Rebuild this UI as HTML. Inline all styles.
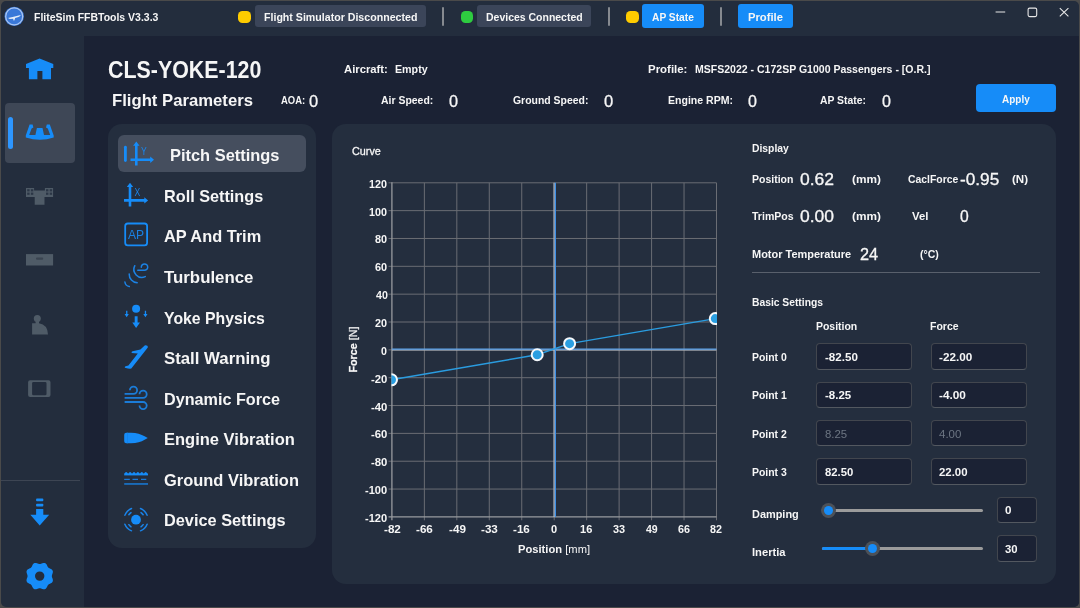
<!DOCTYPE html>
<html lang="en">
<head>
<meta charset="utf-8">
<title>FliteSim FFBTools V3.3.3</title>
<style>
*{box-sizing:border-box;margin:0;padding:0}
html,body{width:1080px;height:608px;overflow:hidden;background:#4a4a4a;font-family:"Liberation Sans",sans-serif;}
.abs,.t,svg,.box{position:absolute}
#win{position:absolute;left:1px;top:1px;width:1078px;height:606px;background:#232d3d;border-radius:5px;overflow:hidden}
#page{position:absolute;left:-1px;top:-1px;width:1080px;height:608px}
.t{white-space:pre;font-weight:700;color:#f6f6f6;transform-origin:0 50%;display:block}
#content{left:84px;top:36px;width:996px;height:572px;background:#1b2234}
.panel{background:#242e3e;border-radius:14px}
.btn{border-radius:3px}
.gray{background:#3b4559}
.blue{background:#168cf8}
.dot{width:12.5px;height:12px;border-radius:4.5px;top:10.6px}
.sep{width:2px;height:19px;top:7px;background:#868a90;border-radius:1px}
.inp{height:26.4px;width:96px;background:#1b2234;border:1px solid #42464e;border-bottom-color:#535860;border-radius:4px}
.track{height:3.4px;border-radius:2px;background:#9b9b9b}
.knob{width:15px;height:15px;border-radius:50%;background:#4c5158}
.knob i{position:absolute;left:3px;top:3px;width:9px;height:9px;border-radius:50%;background:#168cf8}
</style>
</head>
<body>
<div id="win"><div id="page">

<!-- ===== title bar ===== -->
<header id="titlebar">
<svg style="left:3px;top:5px" width="23" height="23" viewBox="3 5 23 23">
  <circle cx="14.2" cy="16.4" r="9.7" fill="#3a78d8"/>
  <circle cx="14.2" cy="16.4" r="8.5" fill="none" stroke="#a9c5f1" stroke-width="1.3"/>
  <path d="M8 17.9 L12.6 17 L19.6 15.3 L21 15.5 L18.6 16.9 L15.2 18.1 L14.3 20.4 L13.5 20.4 L13.2 18.7 L9.8 19 Z" fill="#e4ecf9"/>
</svg>
<div class="abs dot" style="left:238.2px;background:#ffcc00"></div>
<div class="abs btn gray" style="left:255px;top:5px;width:171px;height:22px"></div>
<div class="abs sep" style="left:442.3px"></div>
<div class="abs dot" style="left:460.8px;background:#2ecc40"></div>
<div class="abs btn gray" style="left:477.4px;top:5px;width:113.8px;height:22px"></div>
<div class="abs sep" style="left:608px"></div>
<div class="abs dot" style="left:626.2px;background:#ffcc00"></div>
<div class="abs btn blue" style="left:642.2px;top:4px;width:62px;height:24px"></div>
<div class="abs sep" style="left:720px"></div>
<div class="abs btn blue" style="left:738.3px;top:4px;width:54.6px;height:24px"></div>
<svg style="left:990px;top:0" width="90" height="30" viewBox="990 0 90 30" fill="none" stroke="#e8e8e8" stroke-width="1.1">
  <path d="M995.6 12 H1005.2"/>
  <rect x="1028.1" y="8.1" width="8.6" height="8.5" rx="1.5"/>
  <path d="M1059.8 8.1 L1068.4 16.3 M1068.4 8.1 L1059.8 16.3"/>
</svg>
<span class="t" style="left:33.8px;top:11.0px;font-size:11.73px;line-height:11.73px;transform:scaleX(0.894)">FliteSim FFBTools V3.3.3</span>
<span class="t" style="left:263.7px;top:12.0px;font-size:11.59px;line-height:11.59px;transform:scaleX(0.917)">Flight Simulator Disconnected</span>
<span class="t" style="left:486.2px;top:12.0px;font-size:11.59px;line-height:11.59px;transform:scaleX(0.905)">Devices Connected</span>
<span class="t" style="left:652.1px;top:12.0px;font-size:11.59px;line-height:11.59px;transform:scaleX(0.883)">AP State</span>
<span class="t" style="left:747.6px;top:12.0px;font-size:11.59px;line-height:11.59px;transform:scaleX(0.971)">Profile</span>
</header>

<!-- ===== sidebar ===== -->
<nav id="sidebar">
<div class="abs" style="left:5px;top:102.5px;width:70px;height:60.5px;background:#3e4756;border-radius:4px"></div>
<div class="abs" style="left:8px;top:116.6px;width:5px;height:32.6px;background:#2d96ff;border-radius:2.5px"></div>
<div class="abs" style="left:0;top:479.5px;width:80px;height:1px;background:#3d4553"></div>
<svg style="left:20px;top:50px" width="40" height="40" viewBox="20 50 40 40" fill="#168cf8">
  <path d="M39.6 58.4 L53.3 64 V68 H51 V79.2 H42.4 V71 H37.4 V79.2 H28.9 V68 H26 V64 Z"/>
</svg>
<svg style="left:20px;top:115px" width="40" height="35" viewBox="20 115 40 35" fill="#168cf8">
  <path d="M29.6 124.6 H32.6 L33.4 127.4 L31.6 128.4 L29.2 135.1 H35.4 L36.9 128 H42.5 L44 135.1 H50.2 L47.8 128.4 L46 127.4 L46.8 124.6 H49.8 L53.7 135.5 V137.4 Q40 142 25.8 137.4 V135.5 Z"/>
</svg>
<svg style="left:20px;top:180px" width="40" height="35" viewBox="20 180 40 35">
  <path fill="#4f5b67" d="M26 188.1 H34.1 V190.6 H44.9 V188.1 H53.1 V197 H44.5 V204.7 H34.7 V197 H26 Z"/>
  <g fill="#2b3646"><rect x="27.2" y="189.2" width="2.4" height="2.2"/><rect x="30.9" y="189.2" width="2.4" height="2.2"/><rect x="27.2" y="192.6" width="2.4" height="2.2"/><rect x="30.9" y="192.6" width="2.4" height="2.2"/>
  <rect x="46" y="189.2" width="2.4" height="2.2"/><rect x="49.7" y="189.2" width="2.4" height="2.2"/><rect x="46" y="192.6" width="2.4" height="2.2"/><rect x="49.7" y="192.6" width="2.4" height="2.2"/></g>
</svg>
<svg style="left:20px;top:242px" width="40" height="35" viewBox="20 242 40 35">
  <rect x="26" y="254.1" width="27.1" height="11.4" fill="#4f5b67"/>
  <rect x="36" y="257.6" width="7.2" height="2.1" rx="1" fill="#3a4451"/>
</svg>
<svg style="left:20px;top:307px" width="40" height="35" viewBox="20 307 40 35" fill="#4f5b67">
  <circle cx="37.3" cy="318.5" r="3.5"/>
  <path d="M35.6 320 H39 V323.3 Q47.6 324.6 48 334.5 H32.1 V323.3 H35.6 Z"/>
</svg>
<svg style="left:20px;top:371px" width="40" height="35" viewBox="20 371 40 35">
  <path fill="#4f5b67" fill-rule="evenodd" d="M30.1 380.2 H48.5 Q50.5 380.2 50.5 382.2 V394.9 Q50.5 396.9 48.5 396.9 H30.1 Q28.1 396.9 28.1 394.9 V382.2 Q28.1 380.2 30.1 380.2 Z M33.4 381.9 Q32.1 381.9 32.1 383.2 V393.9 Q32.1 395.2 33.4 395.2 H45.2 Q46.5 395.2 46.5 393.9 V383.2 Q46.5 381.9 45.2 381.9 Z"/>
</svg>
<svg style="left:20px;top:494px" width="40" height="35" viewBox="20 494 40 35" fill="#168cf8">
  <rect x="36.1" y="498.6" width="7.2" height="2.7" rx="0.8"/>
  <rect x="36.1" y="503.8" width="7.2" height="2.7" rx="0.8"/>
  <path d="M36.1 509.1 H43.3 V514.8 H49.2 L39.7 525.5 L30.3 514.8 H36.1 Z"/>
</svg>
<svg style="left:20px;top:558px" width="40" height="36" viewBox="20 558 40 36">
  <path fill="#168cf8" fill-rule="evenodd" d="M39.70 563.95 L40.34 563.88 L41.00 563.70 L41.70 563.45 L42.44 563.19 L43.21 562.99 L43.99 562.91 L44.73 563.00 L45.41 563.28 L46.00 563.74 L46.49 564.34 L46.89 565.03 L47.23 565.74 L47.54 566.41 L47.88 567.01 L48.29 567.51 L48.79 567.92 L49.39 568.26 L50.06 568.57 L50.77 568.91 L51.46 569.31 L52.06 569.80 L52.52 570.39 L52.80 571.07 L52.89 571.81 L52.81 572.59 L52.61 573.36 L52.35 574.10 L52.10 574.80 L51.92 575.46 L51.85 576.10 L51.92 576.74 L52.10 577.40 L52.35 578.10 L52.61 578.84 L52.81 579.61 L52.89 580.39 L52.80 581.13 L52.52 581.81 L52.06 582.40 L51.46 582.89 L50.77 583.29 L50.06 583.63 L49.39 583.94 L48.79 584.28 L48.29 584.69 L47.88 585.19 L47.54 585.79 L47.23 586.46 L46.89 587.17 L46.49 587.86 L46.00 588.46 L45.41 588.92 L44.73 589.20 L43.99 589.29 L43.21 589.21 L42.44 589.01 L41.70 588.75 L41.00 588.50 L40.34 588.32 L39.70 588.25 L39.06 588.32 L38.40 588.50 L37.70 588.75 L36.96 589.01 L36.19 589.21 L35.41 589.29 L34.67 589.20 L33.99 588.92 L33.40 588.46 L32.91 587.86 L32.51 587.17 L32.17 586.46 L31.86 585.79 L31.52 585.19 L31.11 584.69 L30.61 584.28 L30.01 583.94 L29.34 583.63 L28.63 583.29 L27.94 582.89 L27.34 582.40 L26.88 581.81 L26.60 581.13 L26.51 580.39 L26.59 579.61 L26.79 578.84 L27.05 578.10 L27.30 577.40 L27.48 576.74 L27.55 576.10 L27.48 575.46 L27.30 574.80 L27.05 574.10 L26.79 573.36 L26.59 572.59 L26.51 571.81 L26.60 571.07 L26.88 570.39 L27.34 569.80 L27.94 569.31 L28.63 568.91 L29.34 568.57 L30.01 568.26 L30.61 567.92 L31.11 567.51 L31.52 567.01 L31.86 566.41 L32.17 565.74 L32.51 565.03 L32.91 564.34 L33.40 563.74 L33.99 563.28 L34.67 563.00 L35.41 562.91 L36.19 562.99 L36.96 563.19 L37.70 563.45 L38.40 563.70 L39.06 563.88 Z M35.00 576.10 A4.7 4.7 0 1 0 44.40 576.10 A4.7 4.7 0 1 0 35.00 576.10 Z"/>
</svg>

</nav>

<main id="content" class="abs"></main>
<div class="abs btn blue" style="left:976.2px;top:84.2px;width:80px;height:27.6px;border-radius:4px"></div>
<h1 class="t" style="left:107.5px;top:59.0px;font-size:23.18px;line-height:23.18px;transform:scaleX(0.923)">CLS-YOKE-120</h1>
<h2 class="t" style="left:111.9px;top:92.0px;font-size:16.48px;line-height:16.48px;transform:scaleX(1.013)">Flight Parameters</h2>
<span class="t" style="left:280.8px;top:96.0px;font-size:10.34px;line-height:10.34px;transform:scaleX(0.918)">AOA:</span>
<span class="t" style="left:309.0px;top:93.0px;font-size:17.04px;line-height:17.04px;transform:scaleX(0.965);font-weight:400;-webkit-text-stroke:0.3px currentColor">0</span>
<span class="t" style="left:343.6px;top:64.0px;font-size:11.17px;line-height:11.17px;transform:scaleX(1.010)">Aircraft:</span>
<span class="t" style="left:395.0px;top:64.0px;font-size:11.17px;line-height:11.17px;transform:scaleX(0.957)">Empty</span>
<span class="t" style="left:380.8px;top:95.0px;font-size:11.17px;line-height:11.17px;transform:scaleX(0.937)">Air Speed:</span>
<span class="t" style="left:449.0px;top:93.0px;font-size:17.04px;line-height:17.04px;transform:scaleX(0.953);font-weight:400;-webkit-text-stroke:0.3px currentColor">0</span>
<span class="t" style="left:512.9px;top:95.0px;font-size:11.17px;line-height:11.17px;transform:scaleX(0.936)">Ground Speed:</span>
<span class="t" style="left:604.0px;top:93.0px;font-size:17.04px;line-height:17.04px;transform:scaleX(0.976);font-weight:400;-webkit-text-stroke:0.3px currentColor">0</span>
<span class="t" style="left:647.9px;top:64.0px;font-size:11.17px;line-height:11.17px;transform:scaleX(1.026)">Profile:</span>
<span class="t" style="left:695.0px;top:64.0px;font-size:11.17px;line-height:11.17px;transform:scaleX(0.943)">MSFS2022 - C172SP G1000 Passengers - [O.R.]</span>
<span class="t" style="left:667.7px;top:95.0px;font-size:11.17px;line-height:11.17px;transform:scaleX(0.945)">Engine RPM:</span>
<span class="t" style="left:748.3px;top:93.0px;font-size:17.04px;line-height:17.04px;transform:scaleX(0.941);font-weight:400;-webkit-text-stroke:0.3px currentColor">0</span>
<span class="t" style="left:820.0px;top:95.0px;font-size:11.17px;line-height:11.17px;transform:scaleX(0.930)">AP State:</span>
<span class="t" style="left:881.7px;top:93.0px;font-size:17.04px;line-height:17.04px;transform:scaleX(0.941);font-weight:400;-webkit-text-stroke:0.3px currentColor">0</span>
<span class="t" style="left:1001.9px;top:94.0px;font-size:11.59px;line-height:11.59px;transform:scaleX(0.862)">Apply</span>

<!-- ===== settings menu ===== -->
<section class="abs panel" style="left:108px;top:124.2px;width:207.6px;height:424px"></section>
<div class="abs" style="left:117.8px;top:135.3px;width:188.6px;height:36.8px;background:#454e5e;border-radius:6px"></div>
<svg style="left:116px;top:136px" width="50" height="36" viewBox="116 136 50 36" fill="#168cf8">
  <rect x="124" y="145.8" width="2.8" height="16.2" rx="1.4"/>
  <path d="M136.3 141.6 L139.5 145.8 H137.6 V158.5 H150.2 V156.6 L154 159.8 L150.2 163 V161.1 H137.6 V165.4 H135 V161.1 H130.5 V158.5 H135 V145.8 H133.1 Z"/>
  <text x="141" y="155.1" font-family="Liberation Sans, sans-serif" font-size="11" transform="translate(141 0) scale(0.78 1) translate(-141 0)" fill="#1a84ea">Y</text>
</svg>
<svg style="left:116px;top:176px" width="50" height="36" viewBox="116 176 50 36" fill="#168cf8">
  <path d="M130 182.8 L133.2 187 H131.3 V199.1 H144.3 V197.2 L148.1 200.4 L144.3 203.6 V201.7 H131.3 V206.5 H128.7 V201.7 H124 V199.1 H128.7 V187 H126.8 Z"/>
  <text x="134.6" y="195.8" font-family="Liberation Sans, sans-serif" font-size="11" transform="translate(134.6 0) scale(0.78 1) translate(-134.6 0)" fill="#1a84ea">X</text>
</svg>
<svg style="left:116px;top:217px" width="50" height="36" viewBox="116 217 50 36">
  <rect x="125.2" y="223.5" width="21.9" height="21.9" rx="2.6" fill="none" stroke="#168cf8" stroke-width="1.8"/>
  <text x="128" y="238.8" font-family="Liberation Sans, sans-serif" font-size="13" transform="translate(128 0) scale(0.93 1) translate(-128 0)" fill="#1a80e2">AP</text>
</svg>
<svg style="left:116px;top:258px" width="50" height="36" viewBox="116 258 50 36" fill="none" stroke="#1c82e4" stroke-width="1.5" stroke-linecap="round">
  <path d="M124.9 282 A5.5 5.5 0 0 0 129.3 286.6"/>
  <path d="M129.2 274 A8.5 8.5 0 0 0 137.2 282.8"/>
  <path d="M134.8 265.7 A8 8 0 0 0 145.3 276.6"/>
  <path d="M137.8 270.3 H144.4 A3.2 3.2 0 1 0 141.3 267.2"/>
</svg>
<svg style="left:116px;top:299px" width="50" height="36" viewBox="116 299 50 36" fill="#168cf8">
  <circle cx="136.1" cy="308.7" r="4"/>
  <path d="M134.7 316.2 H137.6 V322.5 H140 L136.1 328 L132.3 322.5 H134.7 Z"/>
  <path d="M126.1 310.7 H127.4 V314 H128.8 L126.7 317.2 L124.6 314 H126.1 Z"/>
  <path d="M144.8 310.7 H146.1 V314 H147.5 L145.4 317.2 L143.3 314 H144.8 Z"/>
</svg>
<svg style="left:116px;top:340px" width="50" height="36" viewBox="116 340 50 36" fill="#168cf8">
  <path d="M145 345.3 Q148.2 345.2 147.8 347.4 L131.3 368.5 Q129.6 369 124.8 367.8 Q124.6 366.6 125.6 366.2 L128.4 365.4 L137.8 353.4 L131.6 352.9 Q131.4 351.6 132.6 351.2 L140.4 349.4 Z"/>
</svg>
<svg style="left:116px;top:380px" width="50" height="36" viewBox="116 380 50 36" fill="none" stroke="#1b7cd8" stroke-width="1.8">
  <path d="M124.6 393.9 H133.5 A3.6 3.6 0 1 0 129.9 390.3"/>
  <path d="M124.6 397.9 H143.1 A3.6 3.6 0 1 0 139.5 394.3"/>
  <path d="M124.6 402 H143.1 A3.6 3.6 0 1 1 139.5 405.6"/>
</svg>
<svg style="left:116px;top:421px" width="50" height="36" viewBox="116 421 50 36" fill="#168cf8">
  <path d="M126.2 432.7 H131 Q139.5 433 144.6 436.3 L147.8 438 L144.6 439.7 Q139.5 443 131 443.3 H126.2 Q124.2 443.3 124.2 441.3 V434.7 Q124.2 432.7 126.2 432.7 Z"/>
  <path d="M127.5 432.6 V443.4" stroke="#1280e6" stroke-width="0.6" fill="none"/>
</svg>
<svg style="left:116px;top:462px" width="50" height="36" viewBox="116 462 50 36" fill="#168cf8">
  <path d="M124.3 474 Q126.2 469.8 128.1 474 Z M128.2 474 Q130.1 469.8 132.0 474 Z M132.1 474 Q134.0 469.8 135.9 474 Z M136.0 474 Q137.9 469.8 139.8 474 Z M139.9 474 Q141.8 469.8 143.7 474 Z M143.8 474 Q145.7 469.8 147.6 474 Z "/>
  <rect x="124.2" y="473.5" width="23.8" height="1.9"/>
  <path d="M124.2 479.4 H129.8 M132.5 479.4 H138 M141 479.4 H146.3" stroke="#1a7ad8" stroke-width="1.3" fill="none"/>
  <rect x="124.2" y="483" width="23.8" height="1.9" fill="#1a6bb8"/>
</svg>
<svg style="left:116px;top:503px" width="50" height="36" viewBox="116 503 50 36">
  <circle cx="136" cy="519.7" r="4.9" fill="#168cf8"/>
  <path d="M140.50 508.57 A12 12 0 0 1 147.13 515.20 M140.99 512.57 A8.7 8.7 0 0 1 143.13 514.71 M147.13 524.20 A12 12 0 0 1 140.50 530.83 M143.13 524.69 A8.7 8.7 0 0 1 140.99 526.83 M131.50 530.83 A12 12 0 0 1 124.87 524.20 M131.01 526.83 A8.7 8.7 0 0 1 128.87 524.69 M124.87 515.20 A12 12 0 0 1 131.50 508.57 M128.87 514.71 A8.7 8.7 0 0 1 131.01 512.57" fill="none" stroke="#1a84ea" stroke-width="1.5" stroke-linecap="round"/>
</svg>

<span class="t" style="left:169.9px;top:147.0px;font-size:17.04px;line-height:17.04px;transform:scaleX(0.964)">Pitch Settings</span>
<span class="t" style="left:163.5px;top:188.0px;font-size:17.04px;line-height:17.04px;transform:scaleX(0.953)">Roll Settings</span>
<span class="t" style="left:164.0px;top:228.0px;font-size:17.04px;line-height:17.04px;transform:scaleX(0.960)">AP And Trim</span>
<span class="t" style="left:164.4px;top:269.0px;font-size:17.04px;line-height:17.04px;transform:scaleX(0.988)">Turbulence</span>
<span class="t" style="left:164.1px;top:310.0px;font-size:17.04px;line-height:17.04px;transform:scaleX(0.929)">Yoke Physics</span>
<span class="t" style="left:163.8px;top:350.0px;font-size:17.04px;line-height:17.04px;transform:scaleX(0.985)">Stall Warning</span>
<span class="t" style="left:163.5px;top:391.0px;font-size:17.04px;line-height:17.04px;transform:scaleX(0.950)">Dynamic Force</span>
<span class="t" style="left:163.5px;top:431.0px;font-size:17.04px;line-height:17.04px;transform:scaleX(0.969)">Engine Vibration</span>
<span class="t" style="left:163.8px;top:472.0px;font-size:17.04px;line-height:17.04px;transform:scaleX(0.966)">Ground Vibration</span>
<span class="t" style="left:163.5px;top:512.0px;font-size:17.04px;line-height:17.04px;transform:scaleX(0.958)">Device Settings</span>

<!-- ===== main panel ===== -->
<section class="abs panel" style="left:332px;top:124.2px;width:724px;height:459.8px"></section>
<span class="t" style="left:351.8px;top:146.0px;font-size:11.45px;line-height:11.45px;transform:scaleX(0.944);font-weight:400;-webkit-text-stroke:0.3px currentColor">Curve</span>
<svg style="left:0;top:0" width="1080" height="608" viewBox="0 0 1080 608">
<path d="M424.36 182.8 V520.3 M456.82 182.8 V520.3 M489.28 182.8 V520.3 M521.74 182.8 V520.3 M554.20 182.8 V520.3 M586.66 182.8 V520.3 M619.12 182.8 V520.3 M651.58 182.8 V520.3 M684.04 182.8 V520.3 M716.50 182.8 V520.3 M388.5 182.80 H716.5 M388.5 210.64 H716.5 M388.5 238.48 H716.5 M388.5 266.32 H716.5 M388.5 294.17 H716.5 M388.5 322.01 H716.5 M388.5 349.85 H716.5 M388.5 377.69 H716.5 M388.5 405.53 H716.5 M388.5 433.38 H716.5 M388.5 461.22 H716.5 M388.5 489.06 H716.5 " stroke="#6a6d74" stroke-width="1" fill="none"/>
<path d="M391.9 182.3 V520.3 M388.5 516.9 H716.5" stroke="#979a9f" stroke-width="1.3" fill="none"/>
<path d="M554.1 182.8 V516.9 M391.9 350.0 H716.5" stroke="#c2c6cc" stroke-width="1.1" fill="none"/>
<path d="M555.4 182.8 V516.9" stroke="#3b8ee6" stroke-width="1.2" fill="none"/>
<path d="M391.9 349.1 H716.5" stroke="#5ba1ea" stroke-width="1.1" fill="none"/>
<svg x="391.5" y="182.2" width="325.5" height="335.3" viewBox="391.5 182.2 325.5 335.3"><polyline points="391.50,379.80 537.21,354.76 569.59,343.64 715.30,318.60" fill="none" stroke="#2a9ce0" stroke-width="1.45"/>
<circle cx="391.50" cy="379.80" r="5.5" fill="#2a9fe2" stroke="#f6f9fc" stroke-width="2"/>
<circle cx="537.21" cy="354.76" r="5.5" fill="#2a9fe2" stroke="#f6f9fc" stroke-width="2"/>
<circle cx="569.59" cy="343.64" r="5.5" fill="#2a9fe2" stroke="#f6f9fc" stroke-width="2"/>
<circle cx="715.30" cy="318.60" r="5.5" fill="#2a9fe2" stroke="#f6f9fc" stroke-width="2"/>
</svg></svg>

<span class="t" style="left:383.7px;top:524.0px;font-size:11.45px;line-height:11.45px;transform:scaleX(1.019)">-82</span>
<span class="t" style="left:416.1px;top:524.0px;font-size:11.45px;line-height:11.45px;transform:scaleX(1.019)">-66</span>
<span class="t" style="left:448.5px;top:524.0px;font-size:11.45px;line-height:11.45px;transform:scaleX(1.021)">-49</span>
<span class="t" style="left:480.9px;top:524.0px;font-size:11.45px;line-height:11.45px;transform:scaleX(1.019)">-33</span>
<span class="t" style="left:513.3px;top:524.0px;font-size:11.45px;line-height:11.45px;transform:scaleX(1.019)">-16</span>
<span class="t" style="left:551.1px;top:524.0px;font-size:11.45px;line-height:11.45px;transform:scaleX(0.964)">0</span>
<span class="t" style="left:580.4px;top:524.0px;font-size:11.45px;line-height:11.45px;transform:scaleX(0.965)">16</span>
<span class="t" style="left:612.9px;top:524.0px;font-size:11.45px;line-height:11.45px;transform:scaleX(0.952)">33</span>
<span class="t" style="left:645.7px;top:524.0px;font-size:11.45px;line-height:11.45px;transform:scaleX(0.922)">49</span>
<span class="t" style="left:677.8px;top:524.0px;font-size:11.45px;line-height:11.45px;transform:scaleX(0.942)">66</span>
<span class="t" style="left:710.3px;top:524.0px;font-size:11.45px;line-height:11.45px;transform:scaleX(0.937)">82</span>
<span class="t" style="left:369.0px;top:179.0px;font-size:11.45px;line-height:11.45px;transform:scaleX(0.939)">120</span>
<span class="t" style="left:369.0px;top:207.0px;font-size:11.45px;line-height:11.45px;transform:scaleX(0.939)">100</span>
<span class="t" style="left:375.2px;top:234.0px;font-size:11.45px;line-height:11.45px;transform:scaleX(0.947)">80</span>
<span class="t" style="left:375.2px;top:262.0px;font-size:11.45px;line-height:11.45px;transform:scaleX(0.952)">60</span>
<span class="t" style="left:375.5px;top:290.0px;font-size:11.45px;line-height:11.45px;transform:scaleX(0.929)">40</span>
<span class="t" style="left:375.2px;top:318.0px;font-size:11.45px;line-height:11.45px;transform:scaleX(0.946)">20</span>
<span class="t" style="left:381.1px;top:346.0px;font-size:11.45px;line-height:11.45px;transform:scaleX(0.929)">0</span>
<span class="t" style="left:370.8px;top:374.0px;font-size:11.45px;line-height:11.45px;transform:scaleX(0.989)">-20</span>
<span class="t" style="left:370.8px;top:402.0px;font-size:11.45px;line-height:11.45px;transform:scaleX(0.989)">-40</span>
<span class="t" style="left:370.8px;top:429.0px;font-size:11.45px;line-height:11.45px;transform:scaleX(0.989)">-60</span>
<span class="t" style="left:370.8px;top:457.0px;font-size:11.45px;line-height:11.45px;transform:scaleX(0.989)">-80</span>
<span class="t" style="left:364.9px;top:485.0px;font-size:11.45px;line-height:11.45px;transform:scaleX(0.968)">-100</span>
<span class="t" style="left:364.9px;top:513.0px;font-size:11.45px;line-height:11.45px;transform:scaleX(0.968)">-120</span>
<span class="t" style="left:517.9px;top:544.0px;font-size:11.03px;line-height:11.03px;transform:scaleX(1.015)">Position <span style="font-weight:400">[mm]</span></span>
<div class="t" id="ylab" style="left:329.9px;top:344.6px;width:46.4px;height:11px;font-size:11.3px;line-height:11px;transform-origin:50% 50%;transform:rotate(-90deg);text-align:center;-webkit-text-stroke:0.25px currentColor"><span style="display:inline-block;transform:scaleX(0.95)">Force <span style="font-weight:400">[N]</span></span></div>

<span class="t" style="left:751.7px;top:143.0px;font-size:10.89px;line-height:10.89px;transform:scaleX(0.952)">Display</span>
<span class="t" style="left:751.7px;top:174.0px;font-size:10.89px;line-height:10.89px;transform:scaleX(0.965)">Position</span>
<span class="t" style="left:800.1px;top:171.0px;font-size:16.06px;line-height:16.06px;transform:scaleX(1.091);font-weight:400;-webkit-text-stroke:0.3px currentColor">0.62</span>
<span class="t" style="left:851.8px;top:174.0px;font-size:10.89px;line-height:10.89px;transform:scaleX(1.088)">(mm)</span>
<span class="t" style="left:907.7px;top:174.0px;font-size:10.89px;line-height:10.89px;transform:scaleX(0.956)">CaclForce</span>
<span class="t" style="left:960.3px;top:171.0px;font-size:16.06px;line-height:16.06px;transform:scaleX(1.072);font-weight:400;-webkit-text-stroke:0.3px currentColor">-0.95</span>
<span class="t" style="left:1011.7px;top:174.0px;font-size:10.89px;line-height:10.89px;transform:scaleX(1.062)">(N)</span>
<span class="t" style="left:752.3px;top:211.0px;font-size:10.89px;line-height:10.89px;transform:scaleX(0.972)">TrimPos</span>
<span class="t" style="left:800.1px;top:208.0px;font-size:16.06px;line-height:16.06px;transform:scaleX(1.090);font-weight:400;-webkit-text-stroke:0.3px currentColor">0.00</span>
<span class="t" style="left:851.8px;top:211.0px;font-size:10.89px;line-height:10.89px;transform:scaleX(1.088)">(mm)</span>
<span class="t" style="left:912.1px;top:211.0px;font-size:10.89px;line-height:10.89px;transform:scaleX(1.042)">Vel</span>
<span class="t" style="left:960.4px;top:208.0px;font-size:16.06px;line-height:16.06px;transform:scaleX(0.977);font-weight:400;-webkit-text-stroke:0.3px currentColor">0</span>
<span class="t" style="left:751.8px;top:249.0px;font-size:10.89px;line-height:10.89px;transform:scaleX(1.009)">Motor Temperature</span>
<span class="t" style="left:860.2px;top:246.0px;font-size:16.06px;line-height:16.06px;transform:scaleX(1.013);font-weight:400;-webkit-text-stroke:0.3px currentColor">24</span>
<span class="t" style="left:919.7px;top:249.0px;font-size:10.89px;line-height:10.89px;transform:scaleX(0.970)">(°C)</span>
<div class="abs" style="left:752px;top:272.2px;width:288px;height:1px;background:#59606c"></div>
<div class="abs inp" style="left:816px;top:343.3px"></div><div class="abs inp" style="left:930.6px;top:343.3px"></div>
<div class="abs inp" style="left:816px;top:381.6px"></div><div class="abs inp" style="left:930.6px;top:381.6px"></div>
<div class="abs inp" style="left:816px;top:420.0px"></div><div class="abs inp" style="left:930.6px;top:420.0px"></div>
<div class="abs inp" style="left:816px;top:458.3px"></div><div class="abs inp" style="left:930.6px;top:458.3px"></div>
<div class="abs track" style="left:821.5px;top:508.7px;width:161.5px"></div>
<div class="abs knob" style="left:821.1px;top:502.9px"><i></i></div>
<div class="abs inp" style="left:996.8px;top:496.8px;width:40.2px"></div>
<div class="abs track" style="left:821.5px;top:547px;width:161.5px"></div>
<div class="abs track" style="left:821.5px;top:547px;width:51px;background:#168cf8"></div>
<div class="abs knob" style="left:865.2px;top:541.2px"><i></i></div>
<div class="abs inp" style="left:996.8px;top:535.2px;width:40.2px"></div>

<span class="t" style="left:751.8px;top:297.0px;font-size:10.89px;line-height:10.89px;transform:scaleX(0.947)">Basic Settings</span>
<span class="t" style="left:815.8px;top:321.0px;font-size:10.89px;line-height:10.89px;transform:scaleX(0.962)">Position</span>
<span class="t" style="left:929.9px;top:321.0px;font-size:10.89px;line-height:10.89px;transform:scaleX(0.966)">Force</span>
<span class="t" style="left:751.8px;top:352.0px;font-size:10.89px;line-height:10.89px;transform:scaleX(0.960)">Point 0</span>
<span class="t" style="left:824.7px;top:352.0px;font-size:10.89px;line-height:10.89px;transform:scaleX(1.066)">-82.50</span>
<span class="t" style="left:938.8px;top:352.0px;font-size:10.89px;line-height:10.89px;transform:scaleX(1.076)">-22.00</span>
<span class="t" style="left:751.8px;top:390.0px;font-size:10.89px;line-height:10.89px;transform:scaleX(0.959)">Point 1</span>
<span class="t" style="left:824.7px;top:390.0px;font-size:10.89px;line-height:10.89px;transform:scaleX(1.055)">-8.25</span>
<span class="t" style="left:938.8px;top:390.0px;font-size:10.89px;line-height:10.89px;transform:scaleX(1.087)">-4.00</span>
<span class="t" style="left:751.8px;top:429.0px;font-size:10.89px;line-height:10.89px;transform:scaleX(0.959)">Point 2</span>
<span class="t" style="left:824.6px;top:429.0px;font-size:10.89px;line-height:10.89px;transform:scaleX(1.045);font-weight:400;color:#6d7683">8.25</span>
<span class="t" style="left:938.9px;top:429.0px;font-size:10.89px;line-height:10.89px;transform:scaleX(1.056);font-weight:400;color:#6d7683">4.00</span>
<span class="t" style="left:751.8px;top:467.0px;font-size:10.89px;line-height:10.89px;transform:scaleX(0.959)">Point 3</span>
<span class="t" style="left:824.7px;top:467.0px;font-size:10.89px;line-height:10.89px;transform:scaleX(1.038)">82.50</span>
<span class="t" style="left:938.8px;top:467.0px;font-size:10.89px;line-height:10.89px;transform:scaleX(1.049)">22.00</span>
<span class="t" style="left:751.7px;top:509.0px;font-size:11.59px;line-height:11.59px;transform:scaleX(0.944)">Damping</span>
<span class="t" style="left:1005.4px;top:505.0px;font-size:10.89px;line-height:10.89px;transform:scaleX(1.067)">0</span>
<span class="t" style="left:751.7px;top:547.0px;font-size:11.59px;line-height:11.59px;transform:scaleX(0.966)">Inertia</span>
<span class="t" style="left:1005.3px;top:544.0px;font-size:10.89px;line-height:10.89px;transform:scaleX(1.041)">30</span>

</div></div>
</body>
</html>
